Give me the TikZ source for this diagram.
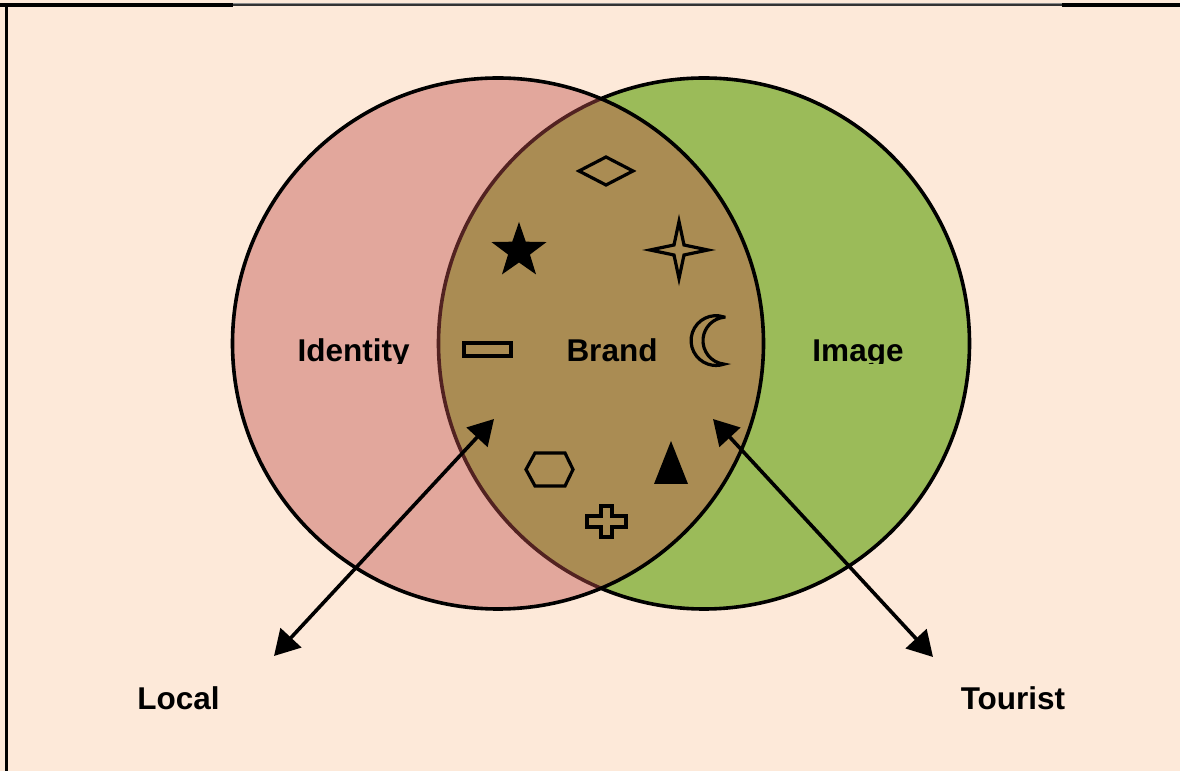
\documentclass[tikz,border=0pt]{standalone}
\usepackage{fontspec}
\setmainfont{Liberation Sans}
\usetikzlibrary{arrows.meta}
\definecolor{peach}{HTML}{FDE9D9}
\definecolor{vennred}{HTML}{C0504D}
\definecolor{venngreen}{HTML}{9BBB59}
\tikzset{
  venn/.style={circle, draw=black, line width=3.6pt, minimum size=531pt, inner sep=0pt, outer sep=0pt},
  lbl/.style={font=\fontsize{31.5}{36}\selectfont\bfseries, inner sep=0pt, anchor=base},
  shp/.style={draw=black, line width=3.2pt, line join=miter},
  conn/.style={line width=3.6pt, {Triangle[length=25pt,width=28pt]}-{Triangle[length=25pt,width=28pt]}}
}
\begin{document}
\begin{tikzpicture}[x=1pt,y=1pt]
\useasboundingbox (0,0) rectangle (1180,771);
\fill[peach] (0,0) rectangle (1180,771);

% frame
\draw[line width=3.5pt] (0,766) -- (233,766);
\draw[line width=3.5pt] (1062,766) -- (1180,766);
\draw[line width=1.5pt, black!45] (233,767) -- (1062,767);
\draw[line width=2pt, black!80] (233,765.5) -- (1062,765.5);
\draw[line width=2.5pt] (6.5,767) -- (6.5,0);

% the two sets
\node[venn, fill=venngreen] (imagecircle) at (704,427.5) {};
\node[venn, fill=vennred, fill opacity=0.43] (identitycircle) at (498,427.5) {};

% symbols in the overlap
\draw[shp] (579,600) -- (606,614) -- (633,600) -- (606,586) -- cycle;
\begin{scope}[shift={(519,520)}]
  \fill[black] (90:29) -- (126:11.5) -- (162:29) -- (198:11.5) -- (234:29) -- (270:11.5)
    -- (306:29) -- (342:11.5) -- (18:29) -- (54:11.5) -- cycle;
\end{scope}
\draw[shp] (679,549.5) -- (684,526) -- (708,521) -- (684,516) -- (679,492.5)
  -- (674,516) -- (650,521) -- (674,526) -- cycle;
\draw[shp] (464,415) rectangle (511,428);
\draw[shp] (724,454) arc[start angle=71.2, end angle=288.8, radius=24.9]
  arc[start angle=263.7, end angle=96.3, radius=23.6] -- cycle;
\draw[shp] (526,301.5) -- (535,318) -- (565,318) -- (573,301.5) -- (565,285) -- (535,285) -- cycle;
\fill[black] (671,330) -- (654,287) -- (688,287) -- cycle;
\draw[shp] (601,265) -- (612,265) -- (612,255) -- (626,255) -- (626,244) -- (612,244)
  -- (612,234) -- (601,234) -- (601,244) -- (587,244) -- (587,255) -- (601,255) -- cycle;

% labels
\node[lbl] (brand) at (612,409) {Brand};
\begin{scope}
  \clip (250,407.5) rectangle (460,460);
  \node[lbl] (identity) at (353.5,409) {Identity};
\end{scope}
\begin{scope}
  \clip (780,407.5) rectangle (960,460);
  \node[lbl] (image) at (858,409) {Image};
\end{scope}
\node[lbl] (local) at (178.5,62) {Local};
\node[lbl] (tourist) at (1013,62) {Tourist};

% audiences
\coordinate (localend) at (274,115);
\coordinate (localin) at (494,352);
\coordinate (touristin) at (713,352);
\coordinate (touristend) at (933,114);
\draw[conn] (localend) -- (localin);
\draw[conn] (touristin) -- (touristend);
\end{tikzpicture}
\end{document}
